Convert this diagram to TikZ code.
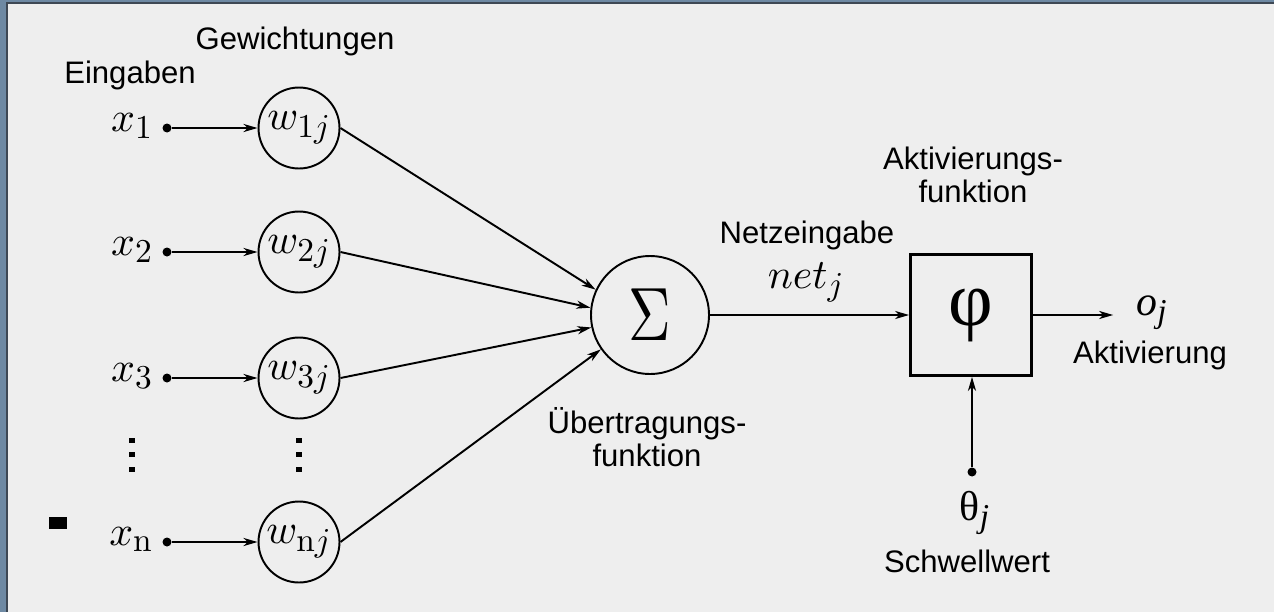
\RequirePackage{fix-cm}
\documentclass[tikz,border=0pt]{standalone}
\usepackage[no-math]{fontspec}
\usepackage{graphicx}
\newfontfamily\grotesk{Liberation Sans}
\newfontfamily\antiqua{Liberation Serif}
% Formeln in den kraeftigeren 10pt-Schnitten, frei skaliert
\DeclareFontShape{OML}{cmm}{m}{it}{<->cmmi10}{\skewchar\font127}
\DeclareFontShape{OT1}{cmr}{m}{n}{<->cmr10}{}
\DeclareMathSizes{23.8}{23.8}{19}{14}
\usetikzlibrary{arrows.meta}
\definecolor{hintergrund}{RGB}{238,238,238}
\definecolor{rahmen}{RGB}{110,137,163}
\definecolor{rahmenlinie}{RGB}{62,72,84}
\begin{document}
\begin{tikzpicture}[x=0.02cm,y=-0.02cm]
\tikzset{
    beschriftung/.style={font=\grotesk\fontsize{17.7}{18.8}\selectfont, inner sep=0pt},
    formel/.style={font=\fontsize{23.8}{26}\selectfont, inner sep=0pt},
    griechisch/.style={font=\antiqua\fontsize{23.8}{26}\selectfont, inner sep=0pt},
    punkt/.style={circle, fill, inner sep=0pt, minimum size=0.18cm},
    gewicht/.style={circle, draw, line width=1.1pt, minimum size=1.62cm, inner sep=0pt, font=\fontsize{23.8}{26}\selectfont},
    summe/.style={circle, draw, line width=1.1pt, minimum size=2.36cm, inner sep=0pt, font=\fontsize{43}{43}\selectfont},
    kasten/.style={draw, line width=1.6pt, minimum size=2.42cm, inner sep=0pt, font=\antiqua\fontsize{44}{44}\selectfont},
    pfeil/.style={line width=1.1pt, -{Stealth[length=8pt,width=4.6pt,inset=2.4pt]}}
}
\useasboundingbox (0,0) rectangle (1274,612);
\fill[hintergrund] (0,0) rectangle (1274,612);
\fill[rahmen] (0,0) rectangle (7,612);
\fill[rahmen] (0,0) rectangle (1274,3);
\fill[rahmenlinie] (6,3) rectangle (8,612);
\fill[rahmenlinie] (6,2) rectangle (1274,3.5);
\fill (49,517) rectangle (67,529);

\node[beschriftung, anchor=base] (eingaben) at (130,83) {Eingaben};
\node[beschriftung, anchor=base] (gewichtungen) at (295,50) {Gewichtungen};

\node[punkt] (e1) at (167,128) {};
\node[punkt] (e2) at (167,252) {};
\node[punkt] (e3) at (167,378) {};
\node[punkt] (en) at (167,542) {};
\node[formel, anchor=base east] (x1) at (153,131) {$x_1$};
\node[formel, anchor=base east] (x2) at (153,255) {$x_2$};
\node[formel, anchor=base east] (x3) at (153,381) {$x_3$};
\node[formel, anchor=base east] (xn) at (153,545) {$x_\mathrm{n}$};

\node[gewicht] (w1) at (299,128) {$w_{1j}$};
\node[gewicht] (w2) at (299,252) {$w_{2j}$};
\node[gewicht] (w3) at (299,378) {$w_{3j}$};
\node[gewicht] (wn) at (299,542) {$w_{\mathrm{n}j}$};

\fill (129,438) rectangle (135,443);
\fill (129,452) rectangle (135,457);
\fill (129,467) rectangle (135,472);
\fill (296,438) rectangle (302,443);
\fill (296,452) rectangle (302,457);
\fill (296,467) rectangle (302,472);

\draw[pfeil] (e1) -- (w1);
\draw[pfeil] (e2) -- (w2);
\draw[pfeil] (e3) -- (w3);
\draw[pfeil] (en) -- (wn);

\node[summe] (sigma) at (650,315) {\scalebox{0.78}[1]{$\Sigma$}};
\node[beschriftung, align=center] (uebfkt) at (647,437) {Übertragungs-\\funktion};

\draw[pfeil] (w1.east) -- (sigma.155);
\draw[pfeil] (w2.east) -- (sigma.173);
\draw[pfeil] (w3.east) -- (sigma.192);
\draw[pfeil] (wn.east) -- (sigma.215);

\node[kasten] (phi) at (971,315) {φ};
\node[beschriftung, align=center] (aktfkt) at (973,175) {Aktivierungs-\\funktion};
\node[beschriftung, anchor=base] (netz) at (807,243) {Netzeingabe};
\node[formel, anchor=base] (net) at (806,288) {$net_j$};
\draw[pfeil] (sigma) -- (phi);

\node[griechisch, anchor=base west] (o) at (1136,315) {\itshape o\textsubscript{j}};
\node[beschriftung, anchor=base] (aktivierung) at (1150,363) {Aktivierung};
\draw[pfeil] (phi.east) -- ([xshift=-13]phi.east -| o.west);

\node[punkt] (s) at (972,472) {};
\node[griechisch, anchor=base] (theta) at (975,520) {θ\textsubscript{\itshape j}};
\node[beschriftung, anchor=base] (schwelle) at (967,572) {Schwellwert};
\draw[pfeil] (s) -- (s |- phi.south);
\end{tikzpicture}
\end{document}
